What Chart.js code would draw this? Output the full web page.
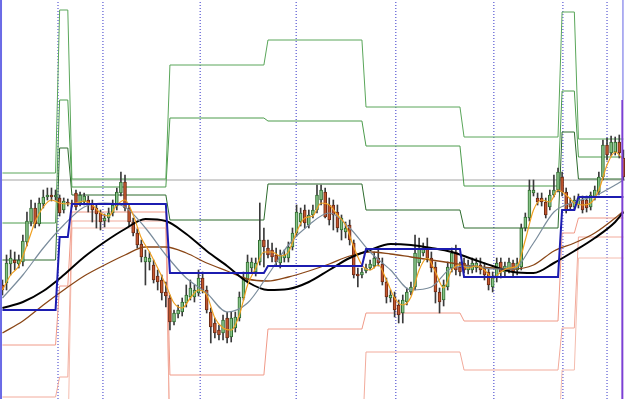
<!DOCTYPE html>
<html>
<head>
<meta charset="utf-8">
<script src="https://cdn.jsdelivr.net/npm/chart.js@4.4.1/dist/chart.umd.min.js"></script>
<style>
  html, body { margin: 0; padding: 0; background: #fff; }
  #wrap { width: 625px; height: 399px; position: relative; }
</style>
</head>
<body>
<div id="wrap"><canvas id="chart"></canvas></div>
<script>
// [1] CANDLES (hourly bars, price units)
const OPEN  = [115,117,136,140,136,138,158,178,192,176,196,203,205,203,202,190,198,197,207,197,
               198,200,195,192,187,179,182,187,194,207,218,192,178,167,156,138,138,135,124,120,
               108,102,78,86,88,97,103,103,107,122,110,88,77,70,67,82,63,72,82,102,
               120,132,128,138,160,152,150,145,137,142,142,153,167,178,190,175,185,190,200,208,
               195,195,188,170,168,175,157,126,125,129,132,134,142,136,118,102,103,95,87,98,
               108,113,137,147,152,142,133,108,100,113,132,148,133,137,130,130,132,135,132,128,
               113,122,138,128,130,137,130,133,172,182,207,202,202,198,193,205,210,223,208,197,
               193,195,200,200,193,202,208,223,255,247,248,258,242];
const HIGH  = [120,145,150,148,145,165,188,200,197,202,210,212,212,210,205,202,201,200,210,208,
               207,204,200,195,190,186,192,200,212,228,225,195,182,171,160,150,148,140,130,125,
               118,105,90,95,102,115,120,115,130,128,114,92,82,75,85,88,88,88,108,128,
               145,142,142,197,172,160,157,152,150,150,158,172,195,192,195,190,195,215,215,212,
               202,200,195,185,178,180,160,132,132,136,140,148,150,142,122,110,108,100,105,112,
               118,165,162,157,162,148,138,112,120,138,152,155,138,142,140,142,142,142,137,132,
               128,142,142,138,142,140,142,176,187,220,220,207,207,202,210,225,232,228,212,202,
               204,206,204,204,208,214,228,260,262,264,263,265,250];
const LOW   = [105,110,125,130,132,134,154,174,172,174,192,200,199,200,184,187,194,193,190,194,
               195,188,178,172,170,173,178,184,190,204,189,174,164,152,138,115,130,117,110,100,
               93,70,75,82,84,93,100,98,104,107,87,57,62,60,60,57,58,68,79,100,
               117,128,124,135,133,142,138,135,132,138,138,150,164,174,172,172,182,187,195,182,
               175,170,168,160,162,155,122,113,122,127,130,132,134,115,97,98,83,77,77,95,
               105,110,134,144,138,128,97,87,94,110,128,125,124,127,126,127,128,126,120,110,
               108,118,122,124,127,124,125,130,169,179,204,195,194,182,190,203,208,204,187,190,
               190,192,187,188,190,200,205,220,240,244,245,242,220];
const CLOSE = [110,137,142,137,140,159,179,192,176,197,203,205,203,205,187,199,197,196,193,205,
               204,197,190,186,178,182,187,195,208,218,192,178,167,155,143,143,142,120,118,107,
               104,78,87,90,98,105,112,110,122,110,90,73,67,65,80,62,82,83,103,122,
               138,138,137,160,153,145,143,138,145,145,153,167,188,187,177,185,190,205,210,183,
               180,185,172,182,172,160,125,124,128,132,136,142,137,118,103,105,90,85,100,108,
               113,147,152,152,142,132,108,98,115,133,147,130,128,130,135,137,137,130,125,115,
               122,137,128,134,138,128,137,172,183,210,210,198,198,185,205,210,228,208,190,193,
               200,202,190,192,205,210,223,255,245,258,258,247,223];

// [2] DAILY LEVELS (one value per period)
const PERIOD_START = [0, 14, 17, 41, 65, 89, 113, 137, 141];
const PERIOD_END   = [13, 16, 40, 64, 88, 112, 136, 140, 152];
const R3 = [227, 390, 221, 335, 360, 293, 263, 388, 261];
const R2 = [177, 300, 213, 282, 279, 254, 214, 309, 243];
const R1 = [140, 252, 205, 180, 216, 190, 172, 268, 221];
const S1 = [55, 114, 188, 25, 71, 87, 79, 167, 182];
const S2 = [3, 23, 179, -50, -50, 48, 30, 72, 163];
const S3 = [-50, -50, 172, -50, -50, -50, -50, 30, 142];
const PIVOT = [90, 163, 196, 127, 134, 151, 123, 190, 203];
const REF_LEVEL = 220;
const SEPARATORS = [13.6, 24.6, 48.4, 71.9, 96.3, 120.3, 137.2, 148];

// [3] MOVING AVERAGES (read at sample bars)
const MA_X     = [0,5,10,15,20,25,30,35,40,45,50,55,60,65,70,75,80,85,90,95,100,105,110,115,120,125,130,135,140,145,150,152];
const MA_SLOW  = [92,98,109,125,143,158,171,181,179,166,149,134,118,110,111,118,130,142,150,156,155,152,148,141,134,128,127,137,149,162,178,188];
const MA_MID   = [67,79,95,110,124,135,145,153,153,147,137,129,121,119,123,129,136,144,148,146,143,140,137,134,132,131,135,149,157,167,182,189];
const MA_GRAY  = [102,125,152,175,193,197,193,172,145,122,107,88,97,125,155,175,187,172,148,130,110,113,132,134,131,131,157,188,198,204,215,220];
const FAST_X   = [0,2,4,6,8,10,12,14,16,18,20,22,24,26,28,30,32,34,36,38,40,42,44,46,48,50,52,54,56,58,60,62,64,66,68,70,72,74,76,78,
                  80,82,84,86,88,90,92,94,96,98,100,102,104,106,108,110,112,114,116,118,120,122,124,126,128,130,132,134,136,138,140,142,144,146,148,150,152];
const MA_FAST  = [110,125,134,155,178,193,200,197,196,197,199,195,187,184,195,200,185,162,148,132,115,97,92,102,110,105,82,72,70,85,115,132,148,148,144,148,168,182,184,197,
                  195,185,175,153,135,130,135,120,102,95,103,130,142,128,112,130,135,132,134,130,122,128,132,134,160,190,200,198,210,205,197,195,197,210,235,248,240];

// [4] HELPERS
const idx = OPEN.map((_, i) => i);
const levelPoints = vals => vals.flatMap((v, k) => [
  { x: PERIOD_START[k], y: v }, { x: PERIOD_END[k], y: v }
]);
const curve = (xs, ys) => xs.map((x, k) => ({ x, y: ys[k] }));
const vline = (x, y0, y1) => [{ x, y: y0 }, { x, y: y1 }];
const up = i => CLOSE[i] >= OPEN[i];
const smooth = { cubicInterpolationMode: 'monotone' };

function lineSet(data, color, width, order, extra = {}) {
  return Object.assign({
    type: 'line', data, borderColor: color, borderWidth: width,
    pointRadius: 0, tension: 0, fill: false, order
  }, extra);
}

// [5] DATASETS
const datasets = [];
SEPARATORS.forEach(x => datasets.push(lineSet(vline(x, 1, 400), '#3434c8', 1, 20, { borderDash: [1, 2] })));
datasets.push(lineSet([{ x: -0.6, y: REF_LEVEL }, { x: 152.4, y: REF_LEVEL }], '#a4a4a4', 1, 19));

datasets.push(lineSet(levelPoints(R3), '#5aa65a', 1, 15));
datasets.push(lineSet(levelPoints(R2), '#4c9c4c', 1, 15));
datasets.push(lineSet(levelPoints(R1), '#2d6b2d', 1, 15));
datasets.push(lineSet(levelPoints(S1), '#f09a88', 1, 15));
datasets.push(lineSet(levelPoints(S2), '#f2ab9c', 1, 15));
datasets.push(lineSet(levelPoints(S3), '#f4bcae', 1, 15));

datasets.push({
  type: 'bar', data: idx.map(i => ({ x: i, y: [LOW[i], HIGH[i]] })),
  backgroundColor: '#3a3a3a', barThickness: 1, grouped: false, order: 10
});
datasets.push({
  type: 'bar', data: idx.map(i => ({ x: i, y: [OPEN[i], CLOSE[i]] })),
  backgroundColor: idx.map(i => up(i) ? '#86c486' : '#c4562e'),
  borderColor: idx.map(i => up(i) ? '#2f6a2f' : '#6a2a14'),
  borderWidth: 1, borderSkipped: false, barThickness: 3, grouped: false, order: 9
});

datasets.push(lineSet(curve(MA_X, MA_MID), '#8a4616', 1.3, 6, smooth));
datasets.push(lineSet(curve(MA_X, MA_SLOW), '#000000', 2, 5, smooth));
datasets.push(lineSet(curve(MA_X, MA_GRAY), '#7a8c9c', 1.2, 4, smooth));
datasets.push(lineSet(curve(FAST_X, MA_FAST), '#f0a020', 1.2, 3, smooth));
datasets.push(lineSet(levelPoints(PIVOT), '#1c1cb0', 2, 2));

datasets.push(lineSet(vline(-0.35, 1, 400), '#6a6ae6', 2, 1));
datasets.push(lineSet(vline(151.75, 1, 300), '#7c40d4', 2, 1));
datasets.push(lineSet(vline(151.9, 300, 400), '#6464e4', 1, 1));

// [6] CHART
new Chart(document.getElementById('chart'), {
  type: 'bar',
  data: { datasets },
  options: {
    responsive: true,
    maintainAspectRatio: false,
    animation: false,
    layout: { padding: 0 },
    plugins: { legend: { display: false }, tooltip: { enabled: false } },
    scales: {
      x: { type: 'linear', min: -0.6, max: 152.4, offset: false, display: false },
      y: { type: 'linear', min: 1, max: 400, display: false }
    }
  }
});
</script>
</body>
</html>
